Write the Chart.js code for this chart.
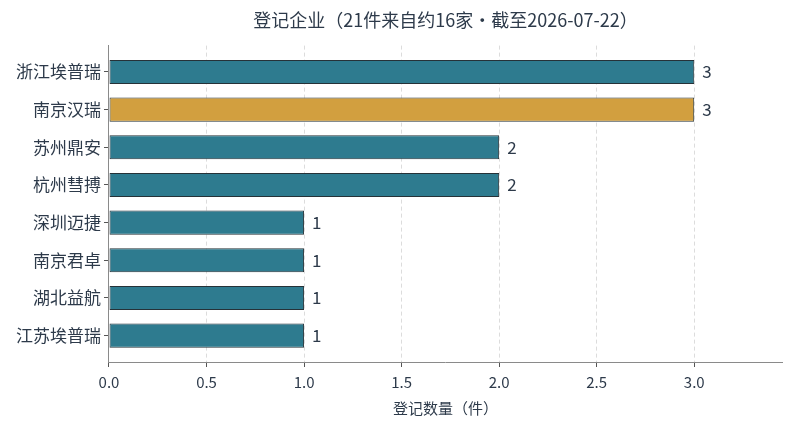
<!DOCTYPE html>
<html>
<head>
<meta charset="utf-8">
<script src="https://cdn.jsdelivr.net/npm/chart.js@4"></script>
<style>
  html, body { margin: 0; padding: 0; background: #fff; }
  #wrap { width: 794px; height: 425px; }
</style>
</head>
<body>
<div id="wrap"><canvas id="myChart"></canvas></div>
<script>
"use strict"

const companies = ["浙江埃普瑞", "南京汉瑞", "苏州鼎安", "杭州彗搏", "深圳迈捷", "南京君卓", "湖北益航", "江苏埃普瑞"];
const counts = [3, 3, 2, 2, 1, 1, 1, 1];
const xTicks = [0, 0.5, 1.0, 1.5, 2.0, 2.5, 3.0];
const highlight = "南京汉瑞";

const teal = "#2e7b8f";
const gold = "#d29f3f";
const font = "'Noto Sans CJK SC', 'Noto Sans', sans-serif";
const textColor = "#2d3a4a";

const barColors = companies.map(c => c === highlight ? gold : teal);

// value labels at the end of each bar
const valueLabels = {
  id: "valueLabels",
  afterDatasetsDraw(chart) {
    const c = chart.ctx;
    const meta = chart.getDatasetMeta(0);
    c.save();
    c.font = "17px " + font;
    c.fillStyle = textColor;
    c.textAlign = "left";
    c.textBaseline = "middle";
    meta.data.forEach((bar, i) => {
      c.fillText(String(counts[i]), bar.x + 8, bar.y);
    });
    c.restore();
  }
};

const ctx = document.getElementById('myChart');
new Chart(ctx, {
  type: 'bar',
  data: {
    datasets: [{
      data: counts.map((v, i) => ({ x: v, y: i })),
      backgroundColor: barColors,
      borderColor: "#263238",
      borderWidth: 1,
      borderSkipped: false,
      barPercentage: 0.64,
      categoryPercentage: 1.0
    }]
  },
  options: {
    indexAxis: 'y',
    responsive: true,
    maintainAspectRatio: false,
    animation: false,
    layout: { padding: { left: 13, right: 12, top: 9, bottom: 8 } },
    plugins: {
      legend: { display: false },
      tooltip: { enabled: false },
      title: {
        display: true,
        fullSize: false,
        text: "登记企业（21件来自约16家·截至2026-07-22）",
        color: textColor,
        font: { family: font, size: 18, weight: 'normal' },
        padding: { top: 0, bottom: 15 }
      }
    },
    scales: {
      x: {
        type: 'linear',
        min: 0,
        max: 3.45,
        afterBuildTicks: axis => { axis.ticks = xTicks.map(v => ({ value: v })); },
        grid: {
          color: "#dcdcdc",
          tickColor: "#555",
          tickBorderDash: [],
          tickLength: 5
        },
        border: { display: true, color: "#8a8a8a", width: 1, dash: [4, 3] },
        ticks: {
          color: textColor,
          font: { family: font, size: 15 },
          padding: 6,
          callback: v => Number(v).toFixed(1)
        },
        title: {
          display: true,
          text: "登记数量（件）",
          color: textColor,
          font: { family: font, size: 15 },
          padding: { top: 2, bottom: 0 }
        }
      },
      y: {
        type: 'linear',
        reverse: true,
        offset: false,
        min: -0.7,
        max: 7.7,
        afterBuildTicks: axis => { axis.ticks = companies.map((_, i) => ({ value: i })); },
        grid: {
          offset: false,
          drawOnChartArea: false,
          tickColor: "#555",
          tickLength: 5
        },
        border: { display: true, color: "#8a8a8a", width: 1 },
        ticks: {
          color: textColor,
          font: { family: font, size: 17 },
          padding: 3,
          autoSkip: false,
          callback: v => companies[v]
        }
      }
    }
  },
  plugins: [valueLabels]
});
</script>
</body>
</html>
